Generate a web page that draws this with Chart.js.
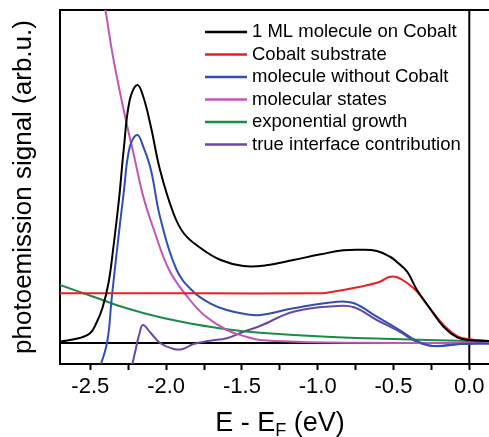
<!DOCTYPE html>
<html lang="en">
<head>
  <meta charset="UTF-8">
  <title>Photoemission spectra</title>
  <script src="https://cdn.jsdelivr.net/npm/chart.js"></script>
  <style>
    body { margin: 0; background: #fff; }
    #wrap { width: 489px; height: 437px; }
  </style>
</head>
<body>
  <div id="wrap"><canvas id="pes"></canvas></div>

  <script>
    // energies (eV) and signals (arb.u.)
    const mlE   = [-2.70, -2.57, -2.50, -2.46, -2.42, -2.38, -2.35, -2.31, -2.28, -2.24, -2.19, -2.15, -2.10, -2.04, -1.95, -1.88, -1.77, -1.64, -1.49, -1.34, -1.16, -0.98, -0.83, -0.72, -0.61, -0.52, -0.48, -0.41, -0.345, -0.26, -0.17, -0.08, 0.0, 0.13];
    const mlSig = [0.13, 0.5, 1.0, 2.0, 3.5, 6.0, 9.3, 14.5, 19.3, 24.3, 25.8, 24.6, 21.6, 17.3, 12.9, 10.9, 9.47, 8.3, 7.7, 7.77, 8.3, 8.87, 9.27, 9.33, 9.2, 8.6, 8.13, 7.13, 5.3, 3.47, 1.63, 0.57, 0.3, 0.2];

    const coE   = [-2.70, -1.80, -1.00, -0.94, -0.72, -0.59, -0.53, -0.48, -0.41, -0.345, -0.26, -0.17, -0.08, 0.0, 0.13];
    const coSig = [4.97, 4.97, 4.97, 5.03, 5.63, 6.13, 6.6, 6.6, 6.0, 5.13, 3.47, 1.8, 0.7, 0.37, 0.2];

    const molE   = [-2.45, -2.39, -2.36, -2.33, -2.28, -2.24, -2.19, -2.15, -2.10, -2.04, -1.93, -1.82, -1.71, -1.60, -1.47, -1.38, -1.16, -0.87, -0.76, -0.61, -0.46, -0.35, -0.24, -0.06, 0.13];
    const molSig = [-3.0, 0.0, 4.3, 8.5, 15, 19.6, 20.8, 19.6, 17.3, 12.6, 7.3, 5.13, 3.97, 3.3, 2.87, 2.8, 3.47, 4.13, 3.97, 2.63, 1.3, 0.23, -0.3, -0.1, -0.05];

    const msE   = [-2.43, -2.40, -2.35, -2.28, -2.21, -2.15, -2.08, -1.98, -1.86, -1.75, -1.60, -1.47, -1.38, -0.94, 0.13];
    const msSig = [36, 33.3, 28.6, 23.3, 18.6, 14.6, 11.3, 7.3, 4.63, 2.8, 1.3, 0.63, 0.3, 0.05, 0.0];

    const expE   = [-2.70, -2.48, -2.26, -2.04, -1.82, -1.60, -1.38, -0.94, -0.50, -0.06, 0.13];
    const expSig = [5.8, 4.63, 3.47, 2.57, 1.9, 1.37, 1.03, 0.63, 0.4, 0.23, 0.2];

    const ifE   = [-2.23, -2.20, -2.175, -2.153, -2.10, -2.04, -1.95, -1.89, -1.82, -1.71, -1.60, -1.49, -1.38, -1.16, -0.87, -0.76, -0.61, -0.46, -0.35, -0.24, -0.06, 0.13];
    const ifSig = [-2.6, -0.6, 1.0, 1.8, 0.97, 0.0, -0.6, -0.6, -0.1, 0.23, 0.47, 1.13, 1.7, 3.13, 3.7, 3.57, 2.3, 1.13, 0.13, -0.3, -0.1, -0.05];

    const xTicks = [-2.5, -2.25, -2.0, -1.75, -1.5, -1.25, -1.0, -0.75, -0.5, -0.25, 0.0];

    const labels = ['1 ML molecule on Cobalt', 'Cobalt substrate', 'molecule without Cobalt',
                    'molecular states', 'exponential growth', 'true interface contribution'];
    const colors = ['#000000', '#ee1c24', '#2f4fb4', '#c455b6', '#1b8c45', '#6a47a6'];

    const pts = (xs, ys) => xs.map((x, i) => ({ x: x, y: ys[i] }));
    const series = [pts(mlE, mlSig), pts(coE, coSig), pts(molE, molSig),
                    pts(msE, msSig), pts(expE, expSig), pts(ifE, ifSig)];

    const FONT = "'Liberation Sans', Arial, sans-serif";

    // frame top, zero line, Fermi level line
    const refLines = {
      id: 'refLines',
      beforeDatasetsDraw(chart) {
        const { ctx, chartArea: a, scales: { x, y } } = chart;
        ctx.save();
        ctx.strokeStyle = '#000';
        ctx.lineWidth = 2;
        ctx.beginPath();
        ctx.moveTo(a.left, a.top); ctx.lineTo(a.right, a.top);
        const y0 = y.getPixelForValue(0);
        ctx.moveTo(a.left, y0); ctx.lineTo(a.right, y0);
        const x0 = x.getPixelForValue(0);
        ctx.moveTo(x0, a.top); ctx.lineTo(x0, a.bottom);
        ctx.stroke();
        ctx.restore();
      }
    };

    // legend and axis titles (subscript F needs manual drawing)
    const annotations = {
      id: 'annotations',
      afterDraw(chart) {
        const { ctx, chartArea: a } = chart;
        ctx.save();
        ctx.fillStyle = '#000';
        ctx.textBaseline = 'middle';
        ctx.font = '18.5px ' + FONT;
        chart.data.datasets.forEach((ds, i) => {
          const yy = 32 + i * 22.5;
          ctx.strokeStyle = ds.borderColor;
          ctx.lineWidth = 2.5;
          ctx.beginPath();
          ctx.moveTo(205, yy); ctx.lineTo(247, yy);
          ctx.stroke();
          ctx.textAlign = 'left';
          ctx.fillText(ds.label, 252, yy);
        });

        // y title
        ctx.save();
        ctx.translate(24, (a.top + a.bottom) / 2);
        ctx.rotate(-Math.PI / 2);
        ctx.textAlign = 'center';
        ctx.font = '26px ' + FONT;
        ctx.fillText('photoemission signal (arb.u.)', 0, 0);
        ctx.restore();

        // x title
        ctx.textBaseline = 'alphabetic';
        ctx.textAlign = 'left';
        const big = '27px ' + FONT, small = '18px ' + FONT;
        const p1 = 'E - E', p2 = 'F', p3 = ' (eV)';
        ctx.font = big; const w1 = ctx.measureText(p1).width, w3 = ctx.measureText(p3).width;
        ctx.font = small; const w2 = ctx.measureText(p2).width;
        let sx = 280 - (w1 + w2 + w3) / 2;
        const base = 431;
        ctx.font = big; ctx.fillText(p1, sx, base); sx += w1;
        ctx.font = small; ctx.fillText(p2, sx, base + 5); sx += w2;
        ctx.font = big; ctx.fillText(p3, sx, base);
        ctx.restore();
      }
    };

    new Chart(document.getElementById('pes'), {
      type: 'line',
      data: {
        datasets: series.map((d, i) => ({
          label: labels[i],
          data: d,
          borderColor: colors[i],
          borderWidth: 2,
          pointRadius: 0,
          fill: false,
          tension: 0.4
        }))
      },
      options: {
        responsive: true,
        maintainAspectRatio: false,
        animation: false,
        layout: { padding: { top: 10, right: 0, left: 0, bottom: 0 } },
        plugins: { legend: { display: false }, tooltip: { enabled: false } },
        scales: {
          x: {
            type: 'linear',
            min: -2.7,
            max: 0.13,
            afterBuildTicks: (s) => { s.ticks = xTicks.map(v => ({ value: v })); },
            afterFit: (s) => { s.height = 73; },
            grid: { drawOnChartArea: false, drawTicks: true, tickLength: 6, tickColor: '#000', tickWidth: 2 },
            border: { display: true, color: '#000', width: 2 },
            ticks: {
              autoSkip: false,
              maxRotation: 0,
              padding: 4,
              color: '#000',
              font: { family: FONT, size: 22 },
              callback: (v) => Math.abs(v * 2 - Math.round(v * 2)) < 1e-6 ? Number(v).toFixed(1) : ''
            }
          },
          y: {
            type: 'linear',
            min: -2.1,
            max: 33.3,
            afterFit: (s) => { s.width = 60; },
            grid: { display: false },
            border: { display: true, color: '#000', width: 2 },
            ticks: { display: false }
          }
        }
      },
      plugins: [refLines, annotations]
    });
  </script>
</body>
</html>
